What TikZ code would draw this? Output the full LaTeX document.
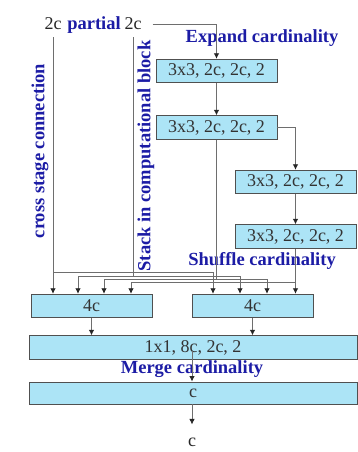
\documentclass[tikz,border=0pt]{standalone}
\usepackage{fontspec}
\setmainfont{Liberation Serif}
\usetikzlibrary{arrows.meta}
\definecolor{boxfill}{RGB}{172,228,246}
\definecolor{boxedge}{RGB}{80,80,80}
\definecolor{lblblue}{RGB}{28,28,165}
\definecolor{linegray}{RGB}{110,110,110}
\tikzset{
  blk/.style={draw=boxedge, fill=boxfill, line width=0.9pt, inner sep=0pt,
    minimum height=23.5pt, text=black!80, font=\fontsize{18}{20}\selectfont},
  lbl/.style={text=lblblue, font=\fontsize{18.5}{20}\selectfont\bfseries, inner sep=0pt},
  plaintxt/.style={font=\fontsize{18}{20}\selectfont, text=black!85, inner xsep=2pt, inner ysep=7pt},
  ln/.style={draw=linegray, line width=0.8pt},
  arr/.style={ln, -{Latex[length=5.5pt,width=5.5pt,color=black!85]}},
}
\begin{document}
\begin{tikzpicture}[x=1pt,y=-1pt]
\useasboundingbox (0,0) rectangle (358,452);

% top texts
\node[plaintxt, anchor=base] (l2c) at (53,30) {2c};
\node[lbl, anchor=base] (partial) at (94,30) {partial};
\node[plaintxt, anchor=base] (r2c) at (133,30) {2c};

% labels
\node[lbl] (expand) at (262,38) {Expand cardinality};
\node[lbl] (shuffle) at (262,261) {Shuffle cardinality};
\node[lbl] (merge) at (192,369) {Merge cardinality};
\node[lbl, rotate=90] (cross) at (40,151) {cross stage connection};
\node[lbl, rotate=90] (stack) at (146,156) {Stack in computational block};

% boxes
\node[blk, minimum width=121pt] (b1) at (216.5,71) {3x3, 2c, 2c, 2};
\node[blk, minimum width=121pt] (b2) at (216.5,127.5) {3x3, 2c, 2c, 2};
\node[blk, minimum width=121pt] (b3) at (295.5,182) {3x3, 2c, 2c, 2};
\node[blk, minimum width=121pt] (b4) at (295.5,236.5) {3x3, 2c, 2c, 2};
\node[blk, minimum width=121pt] (l4c) at (91.5,306) {4c};
\node[blk, minimum width=121pt] (r4c) at (252.5,306) {4c};
\node[blk, minimum width=328pt] (conv) at (193,347.5) {1x1, 8c, 2c, 2};
\node[blk, minimum width=328pt, minimum height=22pt] (cbox) at (193,393) {c};
\node[plaintxt, inner ysep=2pt] (cout) at (192,442) {c};

% junctions
\coordinate (jA) at (53,272);
\coordinate (jB) at (133,276);
\coordinate (jC) at (216.5,279);
\coordinate (jD) at (295.5,282);

% main chain
\draw[arr] ([xshift=9pt]r2c.east) -| (b1.north);
\draw[arr] (b1.south) -- (b2.north);
\draw[arr] (b2.east) -| (b3.north);
\draw[arr] (b3.south) -- (b4.north);
\draw[arr] (b4.south) -- (b4.south |- r4c.north);
\draw[arr] (jD) -| ([xshift=39.5pt]l4c.north);

% cross stage connection
\draw[ln] (l2c.south) -- (jA);
\draw[arr] (jA) -- (jA |- l4c.north);
\draw[arr] (jA) -| ([xshift=-39.5pt]r4c.north);

% stack
\draw[ln] (r2c.south) -- (jB);
\draw[arr] (jB) -| ([xshift=-13.5pt]l4c.north);
\draw[arr] (jB) -| ([xshift=-12.5pt]r4c.north);

% box2 output
\draw[ln] (b2.south) -- (jC);
\draw[arr] (jC) -| ([xshift=12.5pt]l4c.north);
\draw[arr] (jC) -| ([xshift=14.5pt]r4c.north);

% merge
\draw[arr] (l4c.south) -- (conv.north -| l4c.south);
\draw[arr] (r4c.south) -- (conv.north -| r4c.south);
\draw[arr] ([xshift=-1pt,yshift=-3pt]conv.center) -- ([xshift=-1pt]cbox.north);
\draw[arr] ([xshift=-1pt]cbox.south) -- ([yshift=11pt]cout.north);
\end{tikzpicture}
\end{document}
